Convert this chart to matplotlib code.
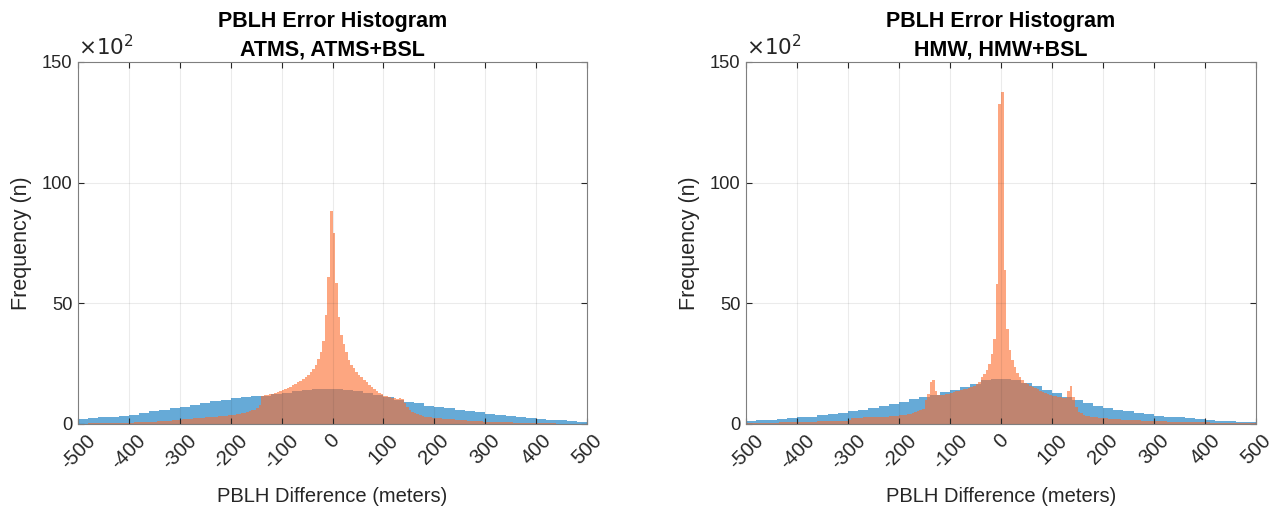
import numpy as np
import matplotlib
matplotlib.use("Agg")
import matplotlib.pyplot as plt

plt.rcParams['font.family'] = ['Liberation Sans', 'DejaVu Sans']

# ---------------- data (frequency in units of 10^2) ----------------
blue_edges = np.arange(-500, 501, 20)     # 20 m bins
orange_edges = np.arange(-500, 501, 5)    # 5 m bins

atms = [2.0, 2.4, 2.8, 3.1, 3.4, 3.9, 4.5, 5.2, 5.9, 6.6,
        7.1, 7.9, 8.6, 9.4, 10.0, 10.6, 11.1, 11.4, 11.8, 12.4,
        13.0, 13.5, 14.0, 14.5, 14.6, 14.4, 14.0, 13.5, 12.8, 12.0,
        11.0, 10.0, 9.2, 8.5, 7.6, 7.0, 6.5, 5.9, 5.3, 4.8,
        4.3, 3.7, 3.2, 2.8, 2.4, 2.1, 1.8, 1.5, 1.2, 0.9]

atms_bsl = [
    # -500 .. -400
    0.2, 0.2, 0.2, 0.2, 0.3, 0.3, 0.3, 0.3, 0.3, 0.3, 0.4, 0.4, 0.4, 0.4, 0.4, 0.5, 0.5, 0.5, 0.5, 0.6,
    # -400 .. -300
    0.6, 0.6, 0.7, 0.7, 0.7, 0.8, 0.8, 0.9, 0.9, 1.0, 1.0, 1.1, 1.1, 1.2, 1.3, 1.3, 1.4, 1.5, 1.6, 1.7,
    # -300 .. -200
    1.8, 1.9, 2.0, 2.1, 2.2, 2.3, 2.3, 2.4, 2.5, 2.6, 2.7, 2.8, 2.9, 3.0, 3.1, 3.2, 3.3, 3.4, 3.5, 3.6,
    # -200 .. -100
    3.7, 3.9, 4.1, 4.3, 4.5, 4.7, 5.0, 5.3, 5.6, 6.0, 6.5, 8.0, 11.5, 12.0, 12.2, 12.4, 12.6, 12.9, 13.2, 13.6,
    # -100 .. 0
    14.0, 14.5, 15.0, 15.5, 16.0, 16.6, 17.2, 17.9, 18.6, 19.4, 20.3, 21.4, 22.8, 24.6, 27.0, 30.0, 34.5, 45.0, 61.0, 88.4,
    # 0 .. 100
    79.1, 58.4, 44.3, 37.0, 33.0, 29.8, 26.6, 24.5, 23.0, 21.6, 20.3, 19.3, 18.3, 17.2, 16.2, 15.3, 14.5, 13.8, 13.0, 12.4,
    # 100 .. 200
    11.8, 11.4, 11.1, 10.9, 10.7, 10.5, 10.6, 10.5, 8.6, 6.9, 5.8, 5.0, 4.5, 4.0, 3.6, 3.3, 3.1, 2.9, 2.8, 2.6,
    # 200 .. 300
    2.5, 2.4, 2.3, 2.2, 2.1, 2.0, 1.9, 1.9, 1.8, 1.7, 1.6, 1.6, 1.5, 1.4, 1.4, 1.3, 1.2, 1.2, 1.1, 1.0,
    # 300 .. 400
    1.0, 1.0, 0.9, 0.9, 0.9, 0.8, 0.8, 0.8, 0.7, 0.7, 0.7, 0.6, 0.6, 0.6, 0.5, 0.5, 0.5, 0.5, 0.4, 0.4,
    # 400 .. 500
    0.4, 0.4, 0.4, 0.3, 0.3, 0.3, 0.3, 0.3, 0.2, 0.2, 0.2, 0.2, 0.2, 0.2, 0.1, 0.1, 0.1, 0.1, 0.1, 0.1,
]

hmw = [1.2, 1.5, 1.8, 2.1, 2.4, 2.7, 3.1, 3.6, 4.1, 4.7,
       5.3, 6.0, 6.7, 7.5, 8.3, 9.2, 10.2, 11.3, 12.2, 13.2,
       14.2, 15.3, 16.7, 18.1, 18.6, 18.8, 18.4, 17.0, 15.6, 14.2,
       12.8, 11.3, 9.8, 8.6, 7.5, 6.7, 6.0, 5.3, 4.6, 4.0,
       3.5, 3.1, 2.7, 2.3, 2.0, 1.7, 1.4, 1.2, 1.0, 0.7]

hmw_bsl = [
    # -500 .. -400
    0.4, 0.4, 0.4, 0.5, 0.5, 0.5, 0.5, 0.5, 0.6, 0.6, 0.6, 0.6, 0.6, 0.7, 0.7, 0.7, 0.7, 0.8, 0.8, 0.8,
    # -400 .. -300
    0.8, 0.9, 0.9, 0.9, 0.9, 1.0, 1.0, 1.0, 1.1, 1.1, 1.1, 1.2, 1.2, 1.2, 1.3, 1.3, 1.3, 1.4, 1.4, 1.4,
    # -300 .. -200
    1.5, 2.4, 2.5, 2.5, 2.6, 2.6, 2.7, 2.7, 2.8, 2.8, 2.9, 2.9, 3.0, 3.0, 3.1, 3.1, 3.2, 3.3, 3.4, 3.5,
    # -200 .. -100
    3.6, 3.7, 3.9, 4.1, 4.3, 4.6, 4.9, 5.3, 5.8, 6.4, 10.0, 12.5, 17.5, 18.3, 13.5, 12.0, 12.0, 12.2, 12.4, 12.6,
    # -100 .. 0
    12.9, 13.2, 13.5, 13.8, 14.1, 14.4, 14.7, 15.0, 15.4, 15.9, 16.4, 17.2, 19.5, 20.9, 22.5, 25.0, 28.9, 35.4, 58.2, 132.5,
    # 0 .. 100
    137.5, 64.0, 39.5, 30.5, 26.4, 23.6, 21.1, 19.6, 18.4, 17.0, 16.4, 15.9, 15.3, 14.8, 14.3, 13.8, 13.4, 13.0, 12.6, 12.2,
    # 100 .. 200
    11.8, 11.5, 11.2, 11.0, 10.8, 10.8, 13.5, 15.8, 11.0, 7.0, 5.0, 4.4, 3.9, 3.5, 3.2, 3.0, 2.8, 2.7, 2.6, 2.5,
    # 200 .. 300
    2.4, 2.3, 2.2, 2.1, 2.0, 2.0, 1.9, 1.8, 1.8, 1.7, 1.7, 1.6, 1.6, 1.5, 1.5, 1.4, 1.4, 1.3, 1.3, 1.2,
    # 300 .. 400
    1.2, 1.2, 1.1, 1.1, 1.1, 1.0, 1.0, 1.0, 1.0, 0.9, 0.9, 0.9, 0.9, 0.8, 0.8, 0.8, 0.8, 0.7, 0.7, 0.7,
    # 400 .. 500
    0.7, 0.7, 0.6, 0.6, 0.6, 0.6, 0.6, 0.5, 0.5, 0.5, 0.5, 0.5, 0.5, 0.4, 0.4, 0.4, 0.4, 0.4, 0.4, 0.4,
]

titles = ["PBLH Error Histogram\nATMS, ATMS+BSL", "PBLH Error Histogram\nHMW, HMW+BSL"]
x_ticks = [-500, -400, -300, -200, -100, 0, 100, 200, 300, 400, 500]
y_ticks = [0, 50, 100, 150]
xlabel = "PBLH Difference (meters)"
ylabel = "Frequency (n)"

blue_c = (0.0, 0.447, 0.741)
orange_c = (0.99, 0.42, 0.17)
axis_c = '#262626'

W, H = 1281, 514
fig = plt.figure(figsize=(W / 100, H / 100), dpi=100)

axes_px = [(78, 62, 509, 362), (746, 62, 510, 362)]
panels = [(atms, atms_bsl), (hmw, hmw_bsl)]

for (x0, y0, w, h), (bvals, ovals), title in zip(axes_px, panels, titles):
    ax = fig.add_axes([x0 / W, 1 - (y0 + h) / H, w / W, h / H])
    ax.stairs(bvals, blue_edges, fill=True, color=blue_c, alpha=0.6, linewidth=0)
    ax.stairs(ovals, orange_edges, fill=True, color=orange_c, alpha=0.6, linewidth=0)
    ax.set_xlim(-500, 500)
    ax.set_ylim(0, 150)
    ax.set_xticks(x_ticks)
    ax.set_xticklabels([str(t) for t in x_ticks], rotation=45, ha='center', fontsize=14.5, color=axis_c)
    ax.set_yticks(y_ticks)
    ax.set_yticklabels([str(t) for t in y_ticks], fontsize=13.2, color=axis_c)
    ax.grid(True, color='#262626', alpha=0.09, linewidth=0.8)
    ax.tick_params(direction='in', length=4, width=0.8, top=True, right=True, colors=axis_c,
                   labelcolor=axis_c)
    ax.tick_params(axis='x', pad=5)
    ax.tick_params(axis='y', pad=4)
    for s in ax.spines.values():
        s.set_color('#7f7f7f')
        s.set_linewidth(0.8)
    ax.set_xlabel(xlabel, fontsize=14.5, color=axis_c, labelpad=10)
    ax.set_ylabel(ylabel, fontsize=15.5, color=axis_c, labelpad=7)
    ax.set_title(title, fontsize=15.5, fontweight='bold', color='black', pad=5, linespacing=1.45)
    ax.text(0.0, 1.005, r"$\times10^{2}$", transform=ax.transAxes, fontsize=15.5,
            color=axis_c, ha='left', va='bottom')

fig.savefig("out.png", dpi=100)
